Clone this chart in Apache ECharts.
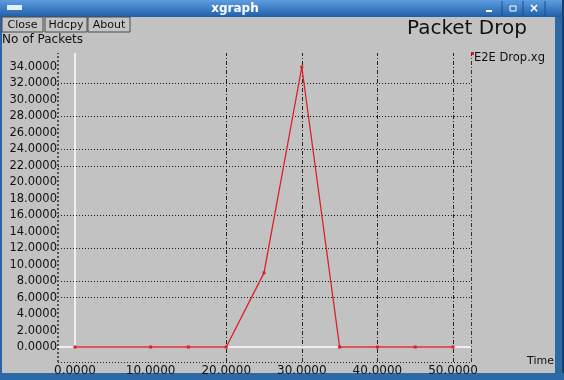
<!DOCTYPE html>
<html>
<head>
<meta charset="utf-8">
<script src="https://cdn.jsdelivr.net/npm/echarts@6/dist/echarts.min.js"></script>
<style>
html,body{margin:0;padding:0;background:#c2c2c2;}
#chart{width:564px;height:380px;}
</style>
</head>
<body>
<div id="chart"></div>
<script>
// Data
var timeValues = [0, 10, 15, 20, 25, 30, 35, 40, 45, 50];
var dropValues = [0, 0, 0, 0, 9, 34, 0, 0, 0, 0];
var xTickLabels = [0, 10, 20, 30, 40, 50];
var yTickLabels = [0, 2, 4, 6, 8, 10, 12, 14, 16, 18, 20, 22, 24, 26, 28, 30, 32, 34];
var hGridValues = [6, 8, 12, 16, 22, 24, 28, 32];
var vGridValues = [20, 30, 40, 50];
var seriesName = 'E2E Drop.xg';

var X_MIN = -2.25, X_MAX = 52.38, Y_MIN = -1.82, Y_MAX = 35.7;
var FONT = 'DejaVu Sans';
var RED = '#dc1f26';

var chart = echarts.init(document.getElementById('chart'), null, {renderer: 'canvas'});

var pairs = timeValues.map(function (t, i) { return [t, dropValues[i]]; });

var markData = [];
hGridValues.forEach(function (v) {
  markData.push({yAxis: v, lineStyle: {color: '#1a1a1a', type: [1, 2], width: 1}});
});
vGridValues.forEach(function (v) {
  markData.push({xAxis: v, lineStyle: {color: '#222', type: [4, 2, 1, 2], width: 1}});
});
// frame
markData.push({xAxis: X_MIN, lineStyle: {color: '#555', type: [2, 2], width: 2}});
markData.push({xAxis: X_MAX, lineStyle: {color: '#333', type: [4, 2, 1, 2], width: 1}});
markData.push({yAxis: Y_MIN, lineStyle: {color: '#222', type: [1, 2], width: 1}});
// zero axes (white)
markData.push({yAxis: 0, lineStyle: {color: '#ffffff', type: 'solid', width: 1.5}});
markData.push([{coord: [0, 0], lineStyle: {color: '#ffffff', type: 'solid', width: 1.5}}, {coord: [0, Y_MAX]}]);

function btn(x, w, label) {
  return [
    {type: 'rect', shape: {x: x, y: 17, width: w, height: 15},
     style: {fill: '#c4c4c4', stroke: '#4a4a4a', lineWidth: 1}},
    {type: 'text', x: x + w / 2, y: 25,
     style: {text: label, font: '11px "' + FONT + '"', fill: '#111', align: 'center', verticalAlign: 'middle'}}
  ];
}

var graphics = [
  // title bar
  {type: 'rect', shape: {x: 0, y: 0, width: 564, height: 17},
   style: {fill: new echarts.graphic.LinearGradient(0, 0, 0, 1, [
     {offset: 0, color: '#5f9de0'}, {offset: 1, color: '#1d5fa8'}])}},
  {type: 'rect', shape: {x: 7, y: 5, width: 15, height: 5}, style: {fill: '#e6eef8'}},
  {type: 'text', x: 235, y: 9,
   style: {text: 'xgraph', font: 'bold 12px "' + FONT + '"', fill: '#ffffff', align: 'center', verticalAlign: 'middle'}},
  // window controls
  {type: 'line', shape: {x1: 502, y1: 1, x2: 502, y2: 16}, style: {stroke: '#174f8e', lineWidth: 1}},
  {type: 'line', shape: {x1: 523, y1: 1, x2: 523, y2: 16}, style: {stroke: '#174f8e', lineWidth: 1}},
  {type: 'line', shape: {x1: 545, y1: 1, x2: 545, y2: 16}, style: {stroke: '#174f8e', lineWidth: 1}},
  {type: 'rect', shape: {x: 486, y: 10, width: 6, height: 2}, style: {fill: '#ffffff'}},
  {type: 'rect', shape: {x: 510, y: 6, width: 6, height: 5}, style: {fill: 'none', stroke: '#ffffff', lineWidth: 1}},
  {type: 'text', x: 534, y: 9,
   style: {text: '×', font: 'bold 12px "' + FONT + '"', fill: '#ffffff', align: 'center', verticalAlign: 'middle'}},
  // window borders
  {type: 'rect', shape: {x: 0, y: 17, width: 2, height: 363}, style: {fill: '#2a64a4'}},
  {type: 'rect', shape: {x: 555, y: 17, width: 9, height: 363}, style: {fill: '#2b6aa6'}},
  {type: 'rect', shape: {x: 562, y: 0, width: 2, height: 380}, style: {fill: '#1a3f6a'}},
  {type: 'rect', shape: {x: 0, y: 373, width: 564, height: 7}, style: {fill: '#2b6aa6'}},
  // axis titles
  {type: 'text', x: 2, y: 40,
   style: {text: 'No of Packets', font: '12px "' + FONT + '"', fill: '#111', verticalAlign: 'middle'}},
  {type: 'text', x: 527, y: 361,
   style: {text: 'Time', font: '11px "' + FONT + '"', fill: '#111', verticalAlign: 'middle'}},
  // legend
  {type: 'rect', shape: {x: 471, y: 52, width: 3, height: 3}, style: {fill: RED}},
  {type: 'text', x: 474, y: 58,
   style: {text: seriesName, font: '11.5px "' + FONT + '"', fill: '#111', verticalAlign: 'middle'}}
].concat(btn(2, 41, 'Close'), btn(45, 42, 'Hdcpy'), btn(88, 42, 'About'));

var option = {
  backgroundColor: '#c2c2c2',
  animation: false,
  title: {
    text: 'Packet Drop', left: 407, top: 19, padding: 0,
    textStyle: {fontFamily: FONT, fontSize: 20, fontWeight: 'normal', color: '#111'}
  },
  grid: {left: 58, right: 93, top: 53, bottom: 18, containLabel: false},
  xAxis: {
    type: 'value', min: X_MIN, max: X_MAX,
    axisLine: {show: false}, axisTick: {show: false}, splitLine: {show: false},
    axisLabel: {
      customValues: xTickLabels, margin: 3, fontFamily: FONT, fontSize: 12, color: '#111',
      formatter: function (v) { return Number(v).toFixed(4); }
    }
  },
  yAxis: {
    type: 'value', min: Y_MIN, max: Y_MAX,
    axisLine: {show: false}, axisTick: {show: false}, splitLine: {show: false},
    axisLabel: {
      customValues: yTickLabels, margin: 1, fontFamily: FONT, fontSize: 11.5, color: '#111',
      formatter: function (v) { return Number(v).toFixed(4); }
    }
  },
  graphic: graphics,
  series: [
    {
      type: 'line', name: 'grid', data: [], z: 1, silent: true,
      markLine: {silent: true, symbol: ['none', 'none'], label: {show: false}, animation: false, data: markData}
    },
    {
      type: 'line', name: seriesName, data: pairs, z: 5,
      symbol: 'rect', symbolSize: 3, showSymbol: true,
      lineStyle: {color: RED, width: 1.3},
      itemStyle: {color: RED}
    }
  ]
};
chart.setOption(option);
</script>
</body>
</html>
